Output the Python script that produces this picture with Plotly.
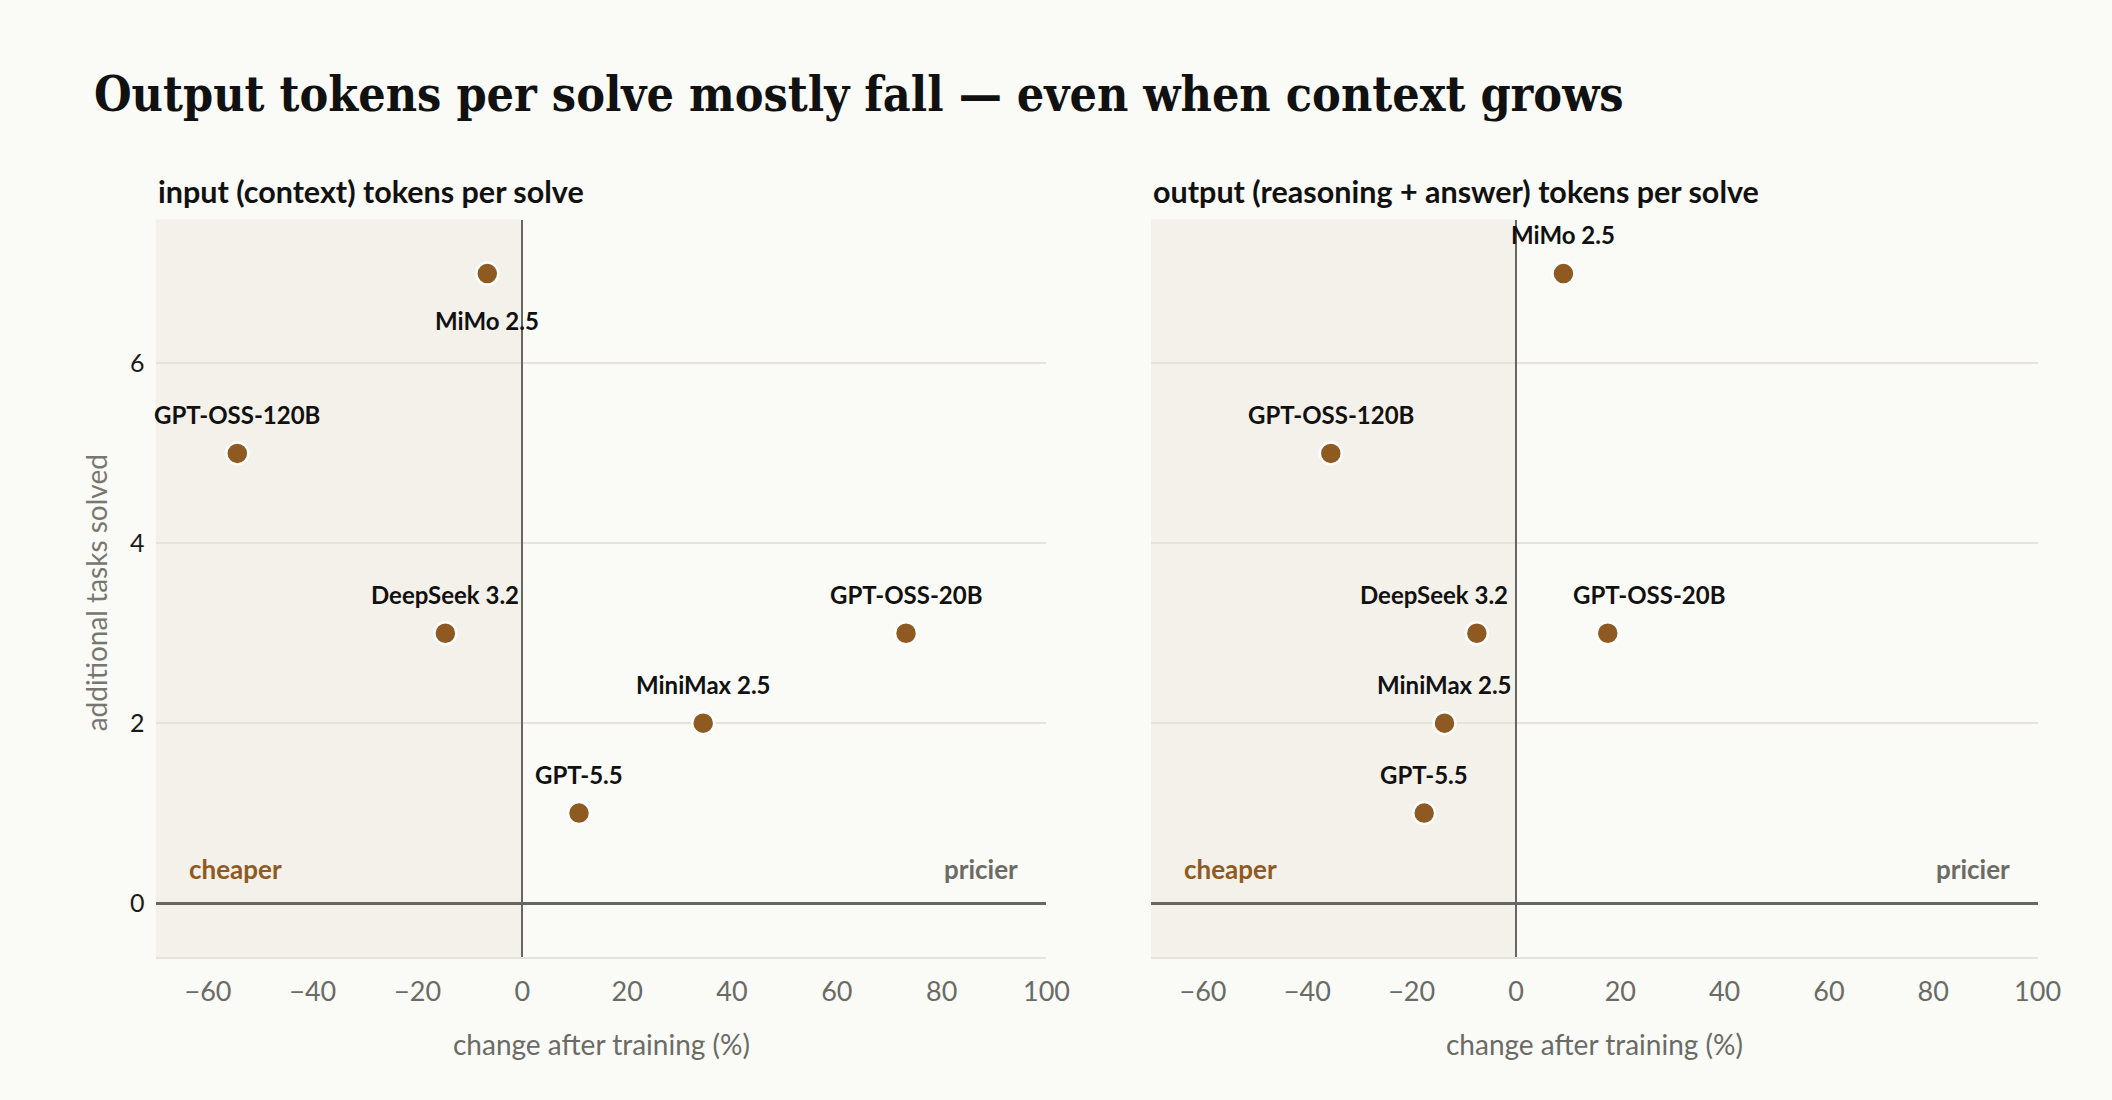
import plotly.graph_objects as go

# ---- data ----
models = ["MiMo 2.5", "GPT-OSS-120B", "DeepSeek 3.2", "GPT-OSS-20B", "MiniMax 2.5", "GPT-5.5"]
tasks_gained = [7, 5, 3, 3, 2, 1]
input_change = [-6.7, -54.4, -14.7, 73.2, 34.5, 10.8]
output_change = [9.1, -35.5, -7.5, 17.6, -13.7, -17.6]
x_ticks = [-60, -40, -20, 0, 20, 40, 60, 80, 100]
y_ticks = [0, 2, 4, 6]
panel_titles = ["input (context) tokens per solve", "output (reasoning + answer) tokens per solve"]

# label placement (styling, pixel offsets)
left_offsets = [(0, -47), (0, 39), (0, 39), (0, 39), (0, 39), (0, 39)]
right_offsets = [(0, 39), (0, 39), (-43, 39), (42, 39), (0, 39), (0, 39)]

W, H = 2112, 1100
BG = "#fafaf6"
SHADE = "#f4f0ea"
PT = "#8f5a22"
GRID = "#e6e2dc"
AXIS = "#666662"
SANS = "Lato"


def px(v):
    # horizontal pixel -> paper fraction (with small render correction)
    return ((v - 1.6) / 0.99) / W


doms = [(px(157.3), px(1049)), (px(1153.5), px(2041))]
ydom = (1 - 957 / H, 1 - 219.6 / H)
xr = [-70, 100]
yr = [-0.6, 7.6]

fig = go.Figure()
annotations = []
shapes = []
for i, (xs, offs) in enumerate([(input_change, left_offsets), (output_change, right_offsets)]):
    xa = "x" if i == 0 else "x2"
    ya = "y" if i == 0 else "y2"
    fig.add_trace(go.Scatter(
        x=xs, y=tasks_gained, mode="markers", xaxis=xa, yaxis=ya,
        marker=dict(size=22, color=PT, line=dict(color="white", width=2.5)),
        hoverinfo="skip", showlegend=False,
    ))
    for m, xv, yv, (dx, dy) in zip(models, xs, tasks_gained, offs):
        annotations.append(dict(
            x=xv, y=yv, xref=xa, yref=ya, text=m, showarrow=False,
            xshift=dx, yshift=dy, font=dict(family=SANS, size=24, color="#111111", weight=700),
        ))
    shapes.append(dict(type="rect", xref=xa, yref=f"{ya} domain", x0=xr[0], x1=0, y0=0, y1=1,
                       fillcolor=SHADE, line=dict(width=0), layer="below"))
    annotations.append(dict(xref=f"{xa} domain", x=0, yref="paper", y=1 - 191 / H,
                            xanchor="left", yanchor="middle", text=panel_titles[i], showarrow=False,
                            font=dict(family=SANS, size=30.5, color="#111111", weight=700)))
    annotations.append(dict(xref=f"{xa} domain", x=0.5, yref="paper", y=1 - 1044 / H,
                            xanchor="center", yanchor="middle", text="change after training (%)",
                            showarrow=False, font=dict(family=SANS, size=28, color="#6b6b66")))
    annotations.append(dict(xref=f"{xa} domain", x=0, xshift=31, yref=ya, y=0, yshift=34,
                            xanchor="left", yanchor="middle", text="cheaper", showarrow=False,
                            font=dict(family=SANS, size=26, color=PT, weight=700)))
    annotations.append(dict(xref=f"{xa} domain", x=1, xshift=-26, yref=ya, y=0, yshift=34,
                            xanchor="right", yanchor="middle", text="pricier", showarrow=False,
                            font=dict(family=SANS, size=26, color="#6b6b66", weight=700)))

annotations.append(dict(xref="paper", yref="paper", x=px(94), y=1 - 94 / H, xanchor="left", yanchor="middle",
                        text="Output tokens per solve mostly fall \u2014 even when context grows", showarrow=False,
                        font=dict(family="DejaVu Serif Condensed, Liberation Serif", size=48,
                                  color="#111111", weight=700)))
annotations.append(dict(xref="paper", yref="paper", x=px(98), y=1 - 593 / H, xanchor="center", yanchor="middle",
                        text="additional tasks solved", textangle=-90, showarrow=False,
                        font=dict(family=SANS, size=28, color="#777772")))

xaxis_common = dict(range=xr, tickvals=x_ticks, ticktext=[("\u2212" + str(-v)) if v < 0 else str(v) for v in x_ticks],
                    showgrid=False, zeroline=True, zerolinecolor=AXIS, zerolinewidth=2,
                    showline=True, linecolor=GRID, linewidth=2, ticks="", ticklabelstandoff=10,
                    tickfont=dict(family=SANS, size=27, color="#6b6b66"), fixedrange=True)
yaxis_common = dict(range=yr, tickvals=y_ticks, showgrid=True, gridcolor=GRID, gridwidth=2,
                    zeroline=True, zerolinecolor=AXIS, zerolinewidth=3, showline=False, ticks="",
                    tickfont=dict(family=SANS, size=25, color="#1a1a1a"), fixedrange=True)

fig.update_layout(
    width=W, height=H, margin=dict(l=0, r=0, t=0, b=0),
    paper_bgcolor=BG, plot_bgcolor=BG,
    xaxis=dict(domain=doms[0], anchor="y", **xaxis_common),
    yaxis=dict(domain=ydom, anchor="x", ticklabelstandoff=10, **yaxis_common),
    xaxis2=dict(domain=doms[1], anchor="y2", **xaxis_common),
    yaxis2=dict(domain=ydom, anchor="x2", showticklabels=False, **yaxis_common),
    annotations=annotations, shapes=shapes,
)

fig.write_html("out.html")
